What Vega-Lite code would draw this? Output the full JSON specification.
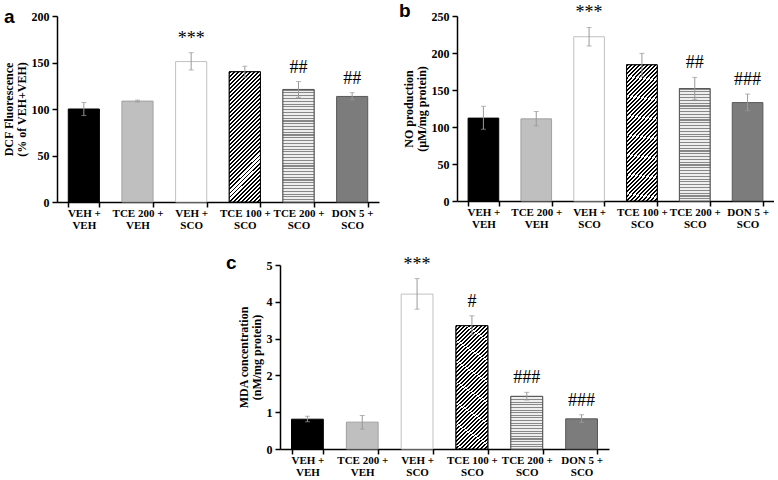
{
"$schema":"https://vega.github.io/schema/vega-lite/v6.json",
"padding":{"left":2,"top":2,"right":0,"bottom":0},
"background":"#ffffff",
"config":{
 "view":{"stroke":null},
 "axis":{"domainColor":"#000","domainWidth":1.5,"tickColor":"#000","tickWidth":1.5,"tickSize":5,"grid":false,
  "labelFont":"Liberation Serif","labelFontWeight":"bold","labelFontSize":11,"labelColor":"#000",
  "titleFont":"Liberation Serif","titleFontWeight":"bold","titleFontSize":12,"titleColor":"#000"},
 "axisX":{"labelAngle":0,"tickBand":"extent","labelPadding":0,"labelLineHeight":12.5,"labelExpr":"split(replace(datum.label,'+ ','+|'),'|')","title":null},
 "axisY":{"labelPadding":3,"titlePadding":3,"titleLineHeight":13,"labelOverlap":false,"labelBound":false,"labelFlush":false,"labelFontSize":12,"tickCount":10},
 "title":{"font":"Liberation Sans","fontSize":19,"fontWeight":"bold","anchor":"start","frame":"group","baseline":"alphabetic","color":"#000"},
 "style":{
  "hatch":{"stroke":"#000","strokeWidth":1,"color":{"gradient":"linear","x1":0,"y1":0,"x2":0.2794,"y2":1.1718,"stops":[
{"offset":0,"color":"#000"},{"offset":0.012,"color":"#000"},{"offset":0.012,"color":"#fff"},{"offset":0.025,"color":"#fff"},
{"offset":0.025,"color":"#000"},{"offset":0.037,"color":"#000"},{"offset":0.037,"color":"#fff"},{"offset":0.05,"color":"#fff"},
{"offset":0.05,"color":"#000"},{"offset":0.062,"color":"#000"},{"offset":0.062,"color":"#fff"},{"offset":0.075,"color":"#fff"},
{"offset":0.075,"color":"#000"},{"offset":0.087,"color":"#000"},{"offset":0.087,"color":"#fff"},{"offset":0.1,"color":"#fff"},
{"offset":0.1,"color":"#000"},{"offset":0.112,"color":"#000"},{"offset":0.112,"color":"#fff"},{"offset":0.125,"color":"#fff"},
{"offset":0.125,"color":"#000"},{"offset":0.137,"color":"#000"},{"offset":0.137,"color":"#fff"},{"offset":0.15,"color":"#fff"},
{"offset":0.15,"color":"#000"},{"offset":0.162,"color":"#000"},{"offset":0.162,"color":"#fff"},{"offset":0.175,"color":"#fff"},
{"offset":0.175,"color":"#000"},{"offset":0.187,"color":"#000"},{"offset":0.187,"color":"#fff"},{"offset":0.2,"color":"#fff"},
{"offset":0.2,"color":"#000"},{"offset":0.212,"color":"#000"},{"offset":0.212,"color":"#fff"},{"offset":0.225,"color":"#fff"},
{"offset":0.225,"color":"#000"},{"offset":0.237,"color":"#000"},{"offset":0.237,"color":"#fff"},{"offset":0.25,"color":"#fff"},
{"offset":0.25,"color":"#000"},{"offset":0.262,"color":"#000"},{"offset":0.262,"color":"#fff"},{"offset":0.275,"color":"#fff"},
{"offset":0.275,"color":"#000"},{"offset":0.287,"color":"#000"},{"offset":0.287,"color":"#fff"},{"offset":0.3,"color":"#fff"},
{"offset":0.3,"color":"#000"},{"offset":0.312,"color":"#000"},{"offset":0.312,"color":"#fff"},{"offset":0.325,"color":"#fff"},
{"offset":0.325,"color":"#000"},{"offset":0.337,"color":"#000"},{"offset":0.337,"color":"#fff"},{"offset":0.35,"color":"#fff"},
{"offset":0.35,"color":"#000"},{"offset":0.362,"color":"#000"},{"offset":0.362,"color":"#fff"},{"offset":0.375,"color":"#fff"},
{"offset":0.375,"color":"#000"},{"offset":0.387,"color":"#000"},{"offset":0.387,"color":"#fff"},{"offset":0.4,"color":"#fff"},
{"offset":0.4,"color":"#000"},{"offset":0.412,"color":"#000"},{"offset":0.412,"color":"#fff"},{"offset":0.425,"color":"#fff"},
{"offset":0.425,"color":"#000"},{"offset":0.437,"color":"#000"},{"offset":0.437,"color":"#fff"},{"offset":0.45,"color":"#fff"},
{"offset":0.45,"color":"#000"},{"offset":0.462,"color":"#000"},{"offset":0.462,"color":"#fff"},{"offset":0.475,"color":"#fff"},
{"offset":0.475,"color":"#000"},{"offset":0.487,"color":"#000"},{"offset":0.487,"color":"#fff"},{"offset":0.5,"color":"#fff"},
{"offset":0.5,"color":"#000"},{"offset":0.512,"color":"#000"},{"offset":0.512,"color":"#fff"},{"offset":0.525,"color":"#fff"},
{"offset":0.525,"color":"#000"},{"offset":0.537,"color":"#000"},{"offset":0.537,"color":"#fff"},{"offset":0.55,"color":"#fff"},
{"offset":0.55,"color":"#000"},{"offset":0.562,"color":"#000"},{"offset":0.562,"color":"#fff"},{"offset":0.575,"color":"#fff"},
{"offset":0.575,"color":"#000"},{"offset":0.587,"color":"#000"},{"offset":0.587,"color":"#fff"},{"offset":0.6,"color":"#fff"},
{"offset":0.6,"color":"#000"},{"offset":0.612,"color":"#000"},{"offset":0.612,"color":"#fff"},{"offset":0.625,"color":"#fff"},
{"offset":0.625,"color":"#000"},{"offset":0.637,"color":"#000"},{"offset":0.637,"color":"#fff"},{"offset":0.65,"color":"#fff"},
{"offset":0.65,"color":"#000"},{"offset":0.662,"color":"#000"},{"offset":0.662,"color":"#fff"},{"offset":0.675,"color":"#fff"},
{"offset":0.675,"color":"#000"},{"offset":0.687,"color":"#000"},{"offset":0.687,"color":"#fff"},{"offset":0.7,"color":"#fff"},
{"offset":0.7,"color":"#000"},{"offset":0.712,"color":"#000"},{"offset":0.712,"color":"#fff"},{"offset":0.725,"color":"#fff"},
{"offset":0.725,"color":"#000"},{"offset":0.737,"color":"#000"},{"offset":0.737,"color":"#fff"},{"offset":0.75,"color":"#fff"},
{"offset":0.75,"color":"#000"},{"offset":0.762,"color":"#000"},{"offset":0.762,"color":"#fff"},{"offset":0.775,"color":"#fff"},
{"offset":0.775,"color":"#000"},{"offset":0.787,"color":"#000"},{"offset":0.787,"color":"#fff"},{"offset":0.8,"color":"#fff"},
{"offset":0.8,"color":"#000"},{"offset":0.812,"color":"#000"},{"offset":0.812,"color":"#fff"},{"offset":0.825,"color":"#fff"},
{"offset":0.825,"color":"#000"},{"offset":0.837,"color":"#000"},{"offset":0.837,"color":"#fff"},{"offset":0.85,"color":"#fff"},
{"offset":0.85,"color":"#000"},{"offset":0.862,"color":"#000"},{"offset":0.862,"color":"#fff"},{"offset":0.875,"color":"#fff"},
{"offset":0.875,"color":"#000"},{"offset":0.887,"color":"#000"},{"offset":0.887,"color":"#fff"},{"offset":0.9,"color":"#fff"},
{"offset":0.9,"color":"#000"},{"offset":0.912,"color":"#000"},{"offset":0.912,"color":"#fff"},{"offset":0.925,"color":"#fff"},
{"offset":0.925,"color":"#000"},{"offset":0.937,"color":"#000"},{"offset":0.937,"color":"#fff"},{"offset":0.95,"color":"#fff"},
{"offset":0.95,"color":"#000"},{"offset":0.962,"color":"#000"},{"offset":0.962,"color":"#fff"},{"offset":0.975,"color":"#fff"},
{"offset":0.975,"color":"#000"},{"offset":0.987,"color":"#000"},{"offset":0.987,"color":"#fff"},{"offset":1,"color":"#fff"}]}},
  "stripes":{"stroke":"#595959","strokeWidth":1,"color":{"gradient":"linear","x1":0,"y1":0,"x2":0,"y2":1,"stops":[
{"offset":0,"color":"#888"},{"offset":0.01,"color":"#888"},{"offset":0.01,"color":"#eee"},{"offset":0.025,"color":"#eee"},
{"offset":0.025,"color":"#888"},{"offset":0.035,"color":"#888"},{"offset":0.035,"color":"#eee"},{"offset":0.05,"color":"#eee"},
{"offset":0.05,"color":"#888"},{"offset":0.06,"color":"#888"},{"offset":0.06,"color":"#eee"},{"offset":0.075,"color":"#eee"},
{"offset":0.075,"color":"#888"},{"offset":0.085,"color":"#888"},{"offset":0.085,"color":"#eee"},{"offset":0.1,"color":"#eee"},
{"offset":0.1,"color":"#888"},{"offset":0.11,"color":"#888"},{"offset":0.11,"color":"#eee"},{"offset":0.125,"color":"#eee"},
{"offset":0.125,"color":"#888"},{"offset":0.135,"color":"#888"},{"offset":0.135,"color":"#eee"},{"offset":0.15,"color":"#eee"},
{"offset":0.15,"color":"#888"},{"offset":0.16,"color":"#888"},{"offset":0.16,"color":"#eee"},{"offset":0.175,"color":"#eee"},
{"offset":0.175,"color":"#888"},{"offset":0.185,"color":"#888"},{"offset":0.185,"color":"#eee"},{"offset":0.2,"color":"#eee"},
{"offset":0.2,"color":"#888"},{"offset":0.21,"color":"#888"},{"offset":0.21,"color":"#eee"},{"offset":0.225,"color":"#eee"},
{"offset":0.225,"color":"#888"},{"offset":0.235,"color":"#888"},{"offset":0.235,"color":"#eee"},{"offset":0.25,"color":"#eee"},
{"offset":0.25,"color":"#888"},{"offset":0.26,"color":"#888"},{"offset":0.26,"color":"#eee"},{"offset":0.275,"color":"#eee"},
{"offset":0.275,"color":"#888"},{"offset":0.285,"color":"#888"},{"offset":0.285,"color":"#eee"},{"offset":0.3,"color":"#eee"},
{"offset":0.3,"color":"#888"},{"offset":0.31,"color":"#888"},{"offset":0.31,"color":"#eee"},{"offset":0.325,"color":"#eee"},
{"offset":0.325,"color":"#888"},{"offset":0.335,"color":"#888"},{"offset":0.335,"color":"#eee"},{"offset":0.35,"color":"#eee"},
{"offset":0.35,"color":"#888"},{"offset":0.36,"color":"#888"},{"offset":0.36,"color":"#eee"},{"offset":0.375,"color":"#eee"},
{"offset":0.375,"color":"#888"},{"offset":0.385,"color":"#888"},{"offset":0.385,"color":"#eee"},{"offset":0.4,"color":"#eee"},
{"offset":0.4,"color":"#888"},{"offset":0.41,"color":"#888"},{"offset":0.41,"color":"#eee"},{"offset":0.425,"color":"#eee"},
{"offset":0.425,"color":"#888"},{"offset":0.435,"color":"#888"},{"offset":0.435,"color":"#eee"},{"offset":0.45,"color":"#eee"},
{"offset":0.45,"color":"#888"},{"offset":0.46,"color":"#888"},{"offset":0.46,"color":"#eee"},{"offset":0.475,"color":"#eee"},
{"offset":0.475,"color":"#888"},{"offset":0.485,"color":"#888"},{"offset":0.485,"color":"#eee"},{"offset":0.5,"color":"#eee"},
{"offset":0.5,"color":"#888"},{"offset":0.51,"color":"#888"},{"offset":0.51,"color":"#eee"},{"offset":0.525,"color":"#eee"},
{"offset":0.525,"color":"#888"},{"offset":0.535,"color":"#888"},{"offset":0.535,"color":"#eee"},{"offset":0.55,"color":"#eee"},
{"offset":0.55,"color":"#888"},{"offset":0.56,"color":"#888"},{"offset":0.56,"color":"#eee"},{"offset":0.575,"color":"#eee"},
{"offset":0.575,"color":"#888"},{"offset":0.585,"color":"#888"},{"offset":0.585,"color":"#eee"},{"offset":0.6,"color":"#eee"},
{"offset":0.6,"color":"#888"},{"offset":0.61,"color":"#888"},{"offset":0.61,"color":"#eee"},{"offset":0.625,"color":"#eee"},
{"offset":0.625,"color":"#888"},{"offset":0.635,"color":"#888"},{"offset":0.635,"color":"#eee"},{"offset":0.65,"color":"#eee"},
{"offset":0.65,"color":"#888"},{"offset":0.66,"color":"#888"},{"offset":0.66,"color":"#eee"},{"offset":0.675,"color":"#eee"},
{"offset":0.675,"color":"#888"},{"offset":0.685,"color":"#888"},{"offset":0.685,"color":"#eee"},{"offset":0.7,"color":"#eee"},
{"offset":0.7,"color":"#888"},{"offset":0.71,"color":"#888"},{"offset":0.71,"color":"#eee"},{"offset":0.725,"color":"#eee"},
{"offset":0.725,"color":"#888"},{"offset":0.735,"color":"#888"},{"offset":0.735,"color":"#eee"},{"offset":0.75,"color":"#eee"},
{"offset":0.75,"color":"#888"},{"offset":0.76,"color":"#888"},{"offset":0.76,"color":"#eee"},{"offset":0.775,"color":"#eee"},
{"offset":0.775,"color":"#888"},{"offset":0.785,"color":"#888"},{"offset":0.785,"color":"#eee"},{"offset":0.8,"color":"#eee"},
{"offset":0.8,"color":"#888"},{"offset":0.81,"color":"#888"},{"offset":0.81,"color":"#eee"},{"offset":0.825,"color":"#eee"},
{"offset":0.825,"color":"#888"},{"offset":0.835,"color":"#888"},{"offset":0.835,"color":"#eee"},{"offset":0.85,"color":"#eee"},
{"offset":0.85,"color":"#888"},{"offset":0.86,"color":"#888"},{"offset":0.86,"color":"#eee"},{"offset":0.875,"color":"#eee"},
{"offset":0.875,"color":"#888"},{"offset":0.885,"color":"#888"},{"offset":0.885,"color":"#eee"},{"offset":0.9,"color":"#eee"},
{"offset":0.9,"color":"#888"},{"offset":0.91,"color":"#888"},{"offset":0.91,"color":"#eee"},{"offset":0.925,"color":"#eee"},
{"offset":0.925,"color":"#888"},{"offset":0.935,"color":"#888"},{"offset":0.935,"color":"#eee"},{"offset":0.95,"color":"#eee"},
{"offset":0.95,"color":"#888"},{"offset":0.96,"color":"#888"},{"offset":0.96,"color":"#eee"},{"offset":0.975,"color":"#eee"},
{"offset":0.975,"color":"#888"},{"offset":0.985,"color":"#888"},{"offset":0.985,"color":"#eee"},{"offset":1,"color":"#eee"}]}},
  "stripesc":{"stroke":"#595959","strokeWidth":1,"color":{"gradient":"linear","x1":0,"y1":0,"x2":0,"y2":1,"stops":[
{"offset":0,"color":"#888"},{"offset":0.02,"color":"#888"},{"offset":0.02,"color":"#eee"},{"offset":0.05,"color":"#eee"},
{"offset":0.05,"color":"#888"},{"offset":0.07,"color":"#888"},{"offset":0.07,"color":"#eee"},{"offset":0.1,"color":"#eee"},
{"offset":0.1,"color":"#888"},{"offset":0.12,"color":"#888"},{"offset":0.12,"color":"#eee"},{"offset":0.15,"color":"#eee"},
{"offset":0.15,"color":"#888"},{"offset":0.17,"color":"#888"},{"offset":0.17,"color":"#eee"},{"offset":0.2,"color":"#eee"},
{"offset":0.2,"color":"#888"},{"offset":0.22,"color":"#888"},{"offset":0.22,"color":"#eee"},{"offset":0.25,"color":"#eee"},
{"offset":0.25,"color":"#888"},{"offset":0.27,"color":"#888"},{"offset":0.27,"color":"#eee"},{"offset":0.3,"color":"#eee"},
{"offset":0.3,"color":"#888"},{"offset":0.32,"color":"#888"},{"offset":0.32,"color":"#eee"},{"offset":0.35,"color":"#eee"},
{"offset":0.35,"color":"#888"},{"offset":0.37,"color":"#888"},{"offset":0.37,"color":"#eee"},{"offset":0.4,"color":"#eee"},
{"offset":0.4,"color":"#888"},{"offset":0.42,"color":"#888"},{"offset":0.42,"color":"#eee"},{"offset":0.45,"color":"#eee"},
{"offset":0.45,"color":"#888"},{"offset":0.47,"color":"#888"},{"offset":0.47,"color":"#eee"},{"offset":0.5,"color":"#eee"},
{"offset":0.5,"color":"#888"},{"offset":0.52,"color":"#888"},{"offset":0.52,"color":"#eee"},{"offset":0.55,"color":"#eee"},
{"offset":0.55,"color":"#888"},{"offset":0.57,"color":"#888"},{"offset":0.57,"color":"#eee"},{"offset":0.6,"color":"#eee"},
{"offset":0.6,"color":"#888"},{"offset":0.62,"color":"#888"},{"offset":0.62,"color":"#eee"},{"offset":0.65,"color":"#eee"},
{"offset":0.65,"color":"#888"},{"offset":0.67,"color":"#888"},{"offset":0.67,"color":"#eee"},{"offset":0.7,"color":"#eee"},
{"offset":0.7,"color":"#888"},{"offset":0.72,"color":"#888"},{"offset":0.72,"color":"#eee"},{"offset":0.75,"color":"#eee"},
{"offset":0.75,"color":"#888"},{"offset":0.77,"color":"#888"},{"offset":0.77,"color":"#eee"},{"offset":0.8,"color":"#eee"},
{"offset":0.8,"color":"#888"},{"offset":0.82,"color":"#888"},{"offset":0.82,"color":"#eee"},{"offset":0.85,"color":"#eee"},
{"offset":0.85,"color":"#888"},{"offset":0.87,"color":"#888"},{"offset":0.87,"color":"#eee"},{"offset":0.9,"color":"#eee"},
{"offset":0.9,"color":"#888"},{"offset":0.92,"color":"#888"},{"offset":0.92,"color":"#eee"},{"offset":0.95,"color":"#eee"},
{"offset":0.95,"color":"#888"},{"offset":0.97,"color":"#888"},{"offset":0.97,"color":"#eee"},{"offset":1,"color":"#eee"}]}}
 }
},
"spacing":22,
"vconcat":[
 {"hconcat":[
  {"title":{"text":"a","dx":-53,"offset":-17},
   "width":322,"height":186,
   "data":{"values":[
    {"group":"VEH + VEH","mean":100,"lo":93,"hi":107,"sig":""},
    {"group":"TCE 200 + VEH","mean":108.5,"lo":107.5,"hi":109.5,"sig":""},
    {"group":"VEH + SCO","mean":151,"lo":142,"hi":160.5,"sig":"***"},
    {"group":"TCE 100 + SCO","mean":140,"lo":134,"hi":146,"sig":""},
    {"group":"TCE 200 + SCO","mean":121,"lo":112.5,"hi":129.5,"sig":"##"},
    {"group":"DON 5 + SCO","mean":113.5,"lo":110,"hi":117.5,"sig":"##"}]},
   "encoding":{"x":{"field":"group","type":"nominal","sort":null,"scale":{"paddingInner":0.42,"paddingOuter":0.21}}},
   "layer":[
    {"mark":{"type":"bar","strokeWidth":1},
     "encoding":{"y":{"field":"mean","type":"quantitative","scale":{"domain":[0,200],"nice":false},"axis":{"values":[0,50,100,150,200],"tickCount":10,"format":"d","labelOverlap":false,"title":["DCF Fluorescence","(% of VEH+VEH)"]}},
      "fill":{"field":"group","type":"nominal","legend":null,"scale":{"domain":["VEH + VEH","TCE 200 + VEH","VEH + SCO","TCE 100 + SCO","TCE 200 + SCO","DON 5 + SCO"],"range":["#000000","#bfbfbf","#ffffff","#ffffff","#dddddd","#7c7c7c"]}},
      "stroke":{"field":"group","type":"nominal","legend":null,"scale":{"domain":["VEH + VEH","TCE 200 + VEH","VEH + SCO","TCE 100 + SCO","TCE 200 + SCO","DON 5 + SCO"],"range":["#000000","#a0a0a0","#c0c0c0","#000000","#595959","#595959"]}}}},
    {"transform":[{"filter":"datum.group === 'TCE 100 + SCO'"}],"mark":{"type":"bar","style":"hatch"},"encoding":{"y":{"field":"mean","type":"quantitative"}}},
    {"transform":[{"filter":"datum.group === 'TCE 200 + SCO'"}],"mark":{"type":"bar","style":"stripes"},"encoding":{"y":{"field":"mean","type":"quantitative"}}},
    {"mark":{"type":"rule","color":"#999","strokeWidth":1},"encoding":{"y":{"field":"lo","type":"quantitative"},"y2":{"field":"hi"}}},
    {"mark":{"type":"tick","color":"#999","thickness":1,"size":5},"encoding":{"y":{"field":"lo","type":"quantitative"}}},
    {"mark":{"type":"tick","color":"#999","thickness":1,"size":5},"encoding":{"y":{"field":"hi","type":"quantitative"}}},
    {"mark":{"type":"text","font":"Liberation Serif","fontSize":18,"baseline":"alphabetic","dy":-9,"color":"#000"},"encoding":{"y":{"field":"hi","type":"quantitative"},"text":{"field":"sig"}}}
   ]},
  {"title":{"text":"b","dx":-58,"offset":-17},
   "width":317,"height":185,
   "data":{"values":[
    {"group":"VEH + VEH","mean":112,"lo":97,"hi":128,"sig":""},
    {"group":"TCE 200 + VEH","mean":111,"lo":101.5,"hi":121,"sig":""},
    {"group":"VEH + SCO","mean":222,"lo":209.5,"hi":234.5,"sig":"***"},
    {"group":"TCE 100 + SCO","mean":184,"lo":168,"hi":199.5,"sig":""},
    {"group":"TCE 200 + SCO","mean":152,"lo":137,"hi":167,"sig":"##"},
    {"group":"DON 5 + SCO","mean":133,"lo":122,"hi":144.5,"sig":"###"}]},
   "encoding":{"x":{"field":"group","type":"nominal","sort":null,"scale":{"paddingInner":0.42,"paddingOuter":0.21}}},
   "layer":[
    {"mark":{"type":"bar","strokeWidth":1},
     "encoding":{"y":{"field":"mean","type":"quantitative","scale":{"domain":[0,250],"nice":false},"axis":{"values":[0,50,100,150,200,250],"tickCount":10,"format":"d","labelOverlap":false,"title":["NO production","(µM/mg protein)"]}},
      "fill":{"field":"group","type":"nominal","legend":null,"scale":{"domain":["VEH + VEH","TCE 200 + VEH","VEH + SCO","TCE 100 + SCO","TCE 200 + SCO","DON 5 + SCO"],"range":["#000000","#bfbfbf","#ffffff","#ffffff","#dddddd","#7c7c7c"]}},
      "stroke":{"field":"group","type":"nominal","legend":null,"scale":{"domain":["VEH + VEH","TCE 200 + VEH","VEH + SCO","TCE 100 + SCO","TCE 200 + SCO","DON 5 + SCO"],"range":["#000000","#a0a0a0","#c0c0c0","#000000","#595959","#595959"]}}}},
    {"transform":[{"filter":"datum.group === 'TCE 100 + SCO'"}],"mark":{"type":"bar","style":"hatch"},"encoding":{"y":{"field":"mean","type":"quantitative"}}},
    {"transform":[{"filter":"datum.group === 'TCE 200 + SCO'"}],"mark":{"type":"bar","style":"stripes"},"encoding":{"y":{"field":"mean","type":"quantitative"}}},
    {"mark":{"type":"rule","color":"#999","strokeWidth":1},"encoding":{"y":{"field":"lo","type":"quantitative"},"y2":{"field":"hi"}}},
    {"mark":{"type":"tick","color":"#999","thickness":1,"size":5},"encoding":{"y":{"field":"lo","type":"quantitative"}}},
    {"mark":{"type":"tick","color":"#999","thickness":1,"size":5},"encoding":{"y":{"field":"hi","type":"quantitative"}}},
    {"mark":{"type":"text","font":"Liberation Serif","fontSize":18,"baseline":"alphabetic","dy":-9,"color":"#000"},"encoding":{"y":{"field":"hi","type":"quantitative"},"text":{"field":"sig"}}}
   ]}
 ],"spacing":20},
 {"hconcat":[
  {"width":169,"height":10,"data":{"values":[]},"mark":{"type":"point","opacity":0}},
  {"title":{"text":"c","dx":-54,"offset":-17},
   "width":329,"height":184,
   "data":{"values":[
    {"group":"VEH + VEH","mean":0.81,"lo":0.74,"hi":0.89,"sig":""},
    {"group":"TCE 200 + VEH","mean":0.73,"lo":0.54,"hi":0.91,"sig":""},
    {"group":"VEH + SCO","mean":4.21,"lo":3.8,"hi":4.63,"sig":"***"},
    {"group":"TCE 100 + SCO","mean":3.35,"lo":3.1,"hi":3.62,"sig":"#"},
    {"group":"TCE 200 + SCO","mean":1.43,"lo":1.33,"hi":1.54,"sig":"###"},
    {"group":"DON 5 + SCO","mean":0.82,"lo":0.72,"hi":0.93,"sig":"###"}]},
   "encoding":{"x":{"field":"group","type":"nominal","sort":null,"scale":{"paddingInner":0.42,"paddingOuter":0.21}}},
   "layer":[
    {"mark":{"type":"bar","strokeWidth":1},
     "encoding":{"y":{"field":"mean","type":"quantitative","scale":{"domain":[0,5],"nice":false},"axis":{"values":[0,1,2,3,4,5],"tickCount":10,"format":"d","labelOverlap":false,"title":["MDA concentration","(nM/mg protein)"]}},
      "fill":{"field":"group","type":"nominal","legend":null,"scale":{"domain":["VEH + VEH","TCE 200 + VEH","VEH + SCO","TCE 100 + SCO","TCE 200 + SCO","DON 5 + SCO"],"range":["#000000","#bfbfbf","#ffffff","#ffffff","#dddddd","#7c7c7c"]}},
      "stroke":{"field":"group","type":"nominal","legend":null,"scale":{"domain":["VEH + VEH","TCE 200 + VEH","VEH + SCO","TCE 100 + SCO","TCE 200 + SCO","DON 5 + SCO"],"range":["#000000","#a0a0a0","#c0c0c0","#000000","#595959","#595959"]}}}},
    {"transform":[{"filter":"datum.group === 'TCE 100 + SCO'"}],"mark":{"type":"bar","style":"hatch"},"encoding":{"y":{"field":"mean","type":"quantitative"}}},
    {"transform":[{"filter":"datum.group === 'TCE 200 + SCO'"}],"mark":{"type":"bar","style":"stripesc"},"encoding":{"y":{"field":"mean","type":"quantitative"}}},
    {"mark":{"type":"rule","color":"#999","strokeWidth":1},"encoding":{"y":{"field":"lo","type":"quantitative"},"y2":{"field":"hi"}}},
    {"mark":{"type":"tick","color":"#999","thickness":1,"size":5},"encoding":{"y":{"field":"lo","type":"quantitative"}}},
    {"mark":{"type":"tick","color":"#999","thickness":1,"size":5},"encoding":{"y":{"field":"hi","type":"quantitative"}}},
    {"mark":{"type":"text","font":"Liberation Serif","fontSize":18,"baseline":"alphabetic","dy":-9,"color":"#000"},"encoding":{"y":{"field":"hi","type":"quantitative"},"text":{"field":"sig"}}}
   ]}
 ],"spacing":0}
]
}
